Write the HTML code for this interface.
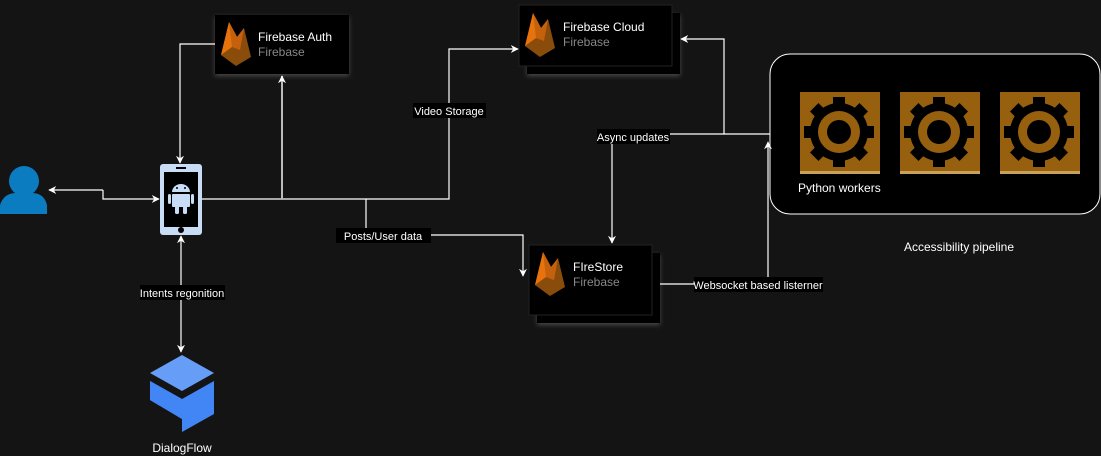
<!DOCTYPE html>
<html><head><meta charset="utf-8"><style>
html,body{margin:0;padding:0;background:#141414;}
svg{display:block;font-family:"Liberation Sans",Arial,sans-serif;}
</style></head><body>
<svg width="1101" height="456" viewBox="0 0 1101 456" xmlns="http://www.w3.org/2000/svg">
<defs>
<filter id="sh" x="-20%" y="-20%" width="140%" height="150%"><feDropShadow dx="0" dy="2" stdDeviation="2.5" flood-color="#888" flood-opacity="0.45"/></filter>
<marker id="ar" viewBox="0 0 10 10" refX="9" refY="5" markerWidth="8" markerHeight="8" orient="auto-start-reverse" markerUnits="userSpaceOnUse"><path d="M0,0 L10,5 L0,10 L3,5 z" fill="#fff"/></marker>
<g id="flame">
<polygon points="1,33 9,0 17,15 24,6 31,35 16,44" fill="#8a4c0b"/>
<polygon points="1,33 9,0 17,15 12,25" fill="#e8720c"/>
<polygon points="9,0 17,15 24,6 20,28 12,25" fill="#c5610c"/>
</g>
<g id="gear">
<rect x="0" y="0" width="80" height="82" fill="#96600f"/>
<rect x="0" y="79" width="80" height="3" fill="#c9a15a"/>
<g transform="translate(39,40)" fill="#000">
<circle r="29"/>
<g id="teeth"><rect x="-6" y="-35" width="12" height="10"/><rect x="-6" y="25" width="12" height="10"/><rect x="-35" y="-6" width="10" height="12"/><rect x="25" y="-6" width="10" height="12"/></g>
<use href="#teeth" transform="rotate(45)"/>
<circle r="21" fill="#96600f"/><circle r="12" fill="#000"/>
</g>
</g>
</defs>

<!-- cards -->
<rect x="215" y="15" width="134" height="59" fill="#000" filter="url(#sh)"/>
<use href="#flame" x="220" y="22"/>
<text x="258" y="41" fill="#fff" font-size="12">Firebase Auth</text>
<text x="258" y="56" fill="#888" font-size="12">Firebase</text>

<rect x="527" y="13" width="153" height="61" fill="#000" filter="url(#sh)"/>
<rect x="519" y="5" width="153" height="61" fill="#000" stroke="#222" stroke-width="1"/>
<use href="#flame" x="524" y="13"/>
<text x="563" y="31" fill="#fff" font-size="12">Firebase Cloud</text>
<text x="563" y="46" fill="#888" font-size="12">Firebase</text>

<rect x="537" y="253" width="123" height="70" fill="#000" filter="url(#sh)"/>
<rect x="529" y="245" width="123" height="70" fill="#000" stroke="#222" stroke-width="1"/>
<use href="#flame" x="534" y="252"/>
<text x="573" y="271" fill="#fff" font-size="12">FIreStore</text>
<text x="573" y="286" fill="#888" font-size="12">Firebase</text>

<!-- pipeline -->
<rect x="770" y="54" width="330" height="160" rx="20" fill="#000" stroke="#fff" stroke-width="1"/>
<use href="#gear" x="800" y="92"/>
<use href="#gear" x="900" y="92"/>
<use href="#gear" x="1000" y="92"/>
<text x="798" y="192" fill="#fff" font-size="12">Python workers</text>
<text x="959" y="251" fill="#fff" font-size="12" text-anchor="middle">Accessibility pipeline</text>

<!-- user -->
<g fill="#0a7cbf"><circle cx="24" cy="181" r="15"/><path d="M0,214 L0,205 Q4,193 16,193 L32,193 Q44,193 47,205 L47,214 z"/></g>

<!-- phone -->
<rect x="160" y="164" width="42" height="71" rx="3" fill="#c9dcf5"/>
<rect x="164" y="172" width="34" height="55" fill="#000"/>
<rect x="176" y="167" width="10" height="2" fill="#000"/>
<circle cx="181" cy="230" r="3" fill="#000"/>
<g fill="#c9dcf5"><path d="M172,192 a9,8 0 0 1 18,0 z"/><rect x="172" y="194" width="18" height="13" rx="1"/><rect x="168" y="194" width="3" height="10" rx="1.5"/><rect x="191" y="194" width="3" height="10" rx="1.5"/><rect x="175" y="206" width="4" height="8" rx="1.5"/><rect x="183" y="206" width="4" height="8" rx="1.5"/></g>
<circle cx="177" cy="188" r="1" fill="#000"/><circle cx="185" cy="188" r="1" fill="#000"/>

<!-- dialogflow -->
<polygon points="182,355 214,373 182,391 150,373" fill="#669df6"/>
<polygon points="150,381 182,399 214,381 214,414 182,432 182,419 150,400" fill="#4285f4"/>
<polygon points="150,381 182,399 182,432 182,419 150,400" fill="#4285f4"/>
<text x="182" y="452" fill="#fff" font-size="12" text-anchor="middle">DialogFlow</text>

<!-- connectors -->
<g fill="none" stroke="#fff" stroke-width="1.2">
<path d="M215,44 H180 V163" marker-end="url(#ar)"/>
<path d="M202,199 H449 V49 H518" marker-end="url(#ar)"/>
<path d="M282,199 V76" stroke="#bbb" stroke-width="2" marker-end="url(#ar)"/>
<path d="M366,199 V235 H523 V276" marker-end="url(#ar)"/>
<path d="M103,190 H49" marker-end="url(#ar)"/>
<path d="M103,190 V199 H159" marker-end="url(#ar)"/>
<path d="M181,352 V236" marker-start="url(#ar)" marker-end="url(#ar)"/>
<path d="M770,134 H724 V39 H681" marker-end="url(#ar)"/>
<path d="M724,134 H612 V243" marker-end="url(#ar)"/>
<path d="M660,284 H768 V142" marker-end="url(#ar)"/>
</g>

<!-- labels -->
<g font-size="11" fill="#fff">
<rect x="413" y="103" width="73" height="15" fill="#000"/><text x="449" y="115" text-anchor="middle">Video Storage</text>
<rect x="336" y="228" width="95" height="15" fill="#000"/><text x="383" y="240" text-anchor="middle">Posts/User data</text>
<rect x="597" y="129" width="73" height="15" fill="#000"/><text x="633" y="141" text-anchor="middle">Async updates</text>
<rect x="694" y="277" width="129" height="15" fill="#000"/><text x="758" y="289" text-anchor="middle">Websocket based listerner</text>
<rect x="140" y="285" width="85" height="15" fill="#000"/><text x="182" y="297" text-anchor="middle">Intents regonition</text>
</g>
</svg>
</body></html>
